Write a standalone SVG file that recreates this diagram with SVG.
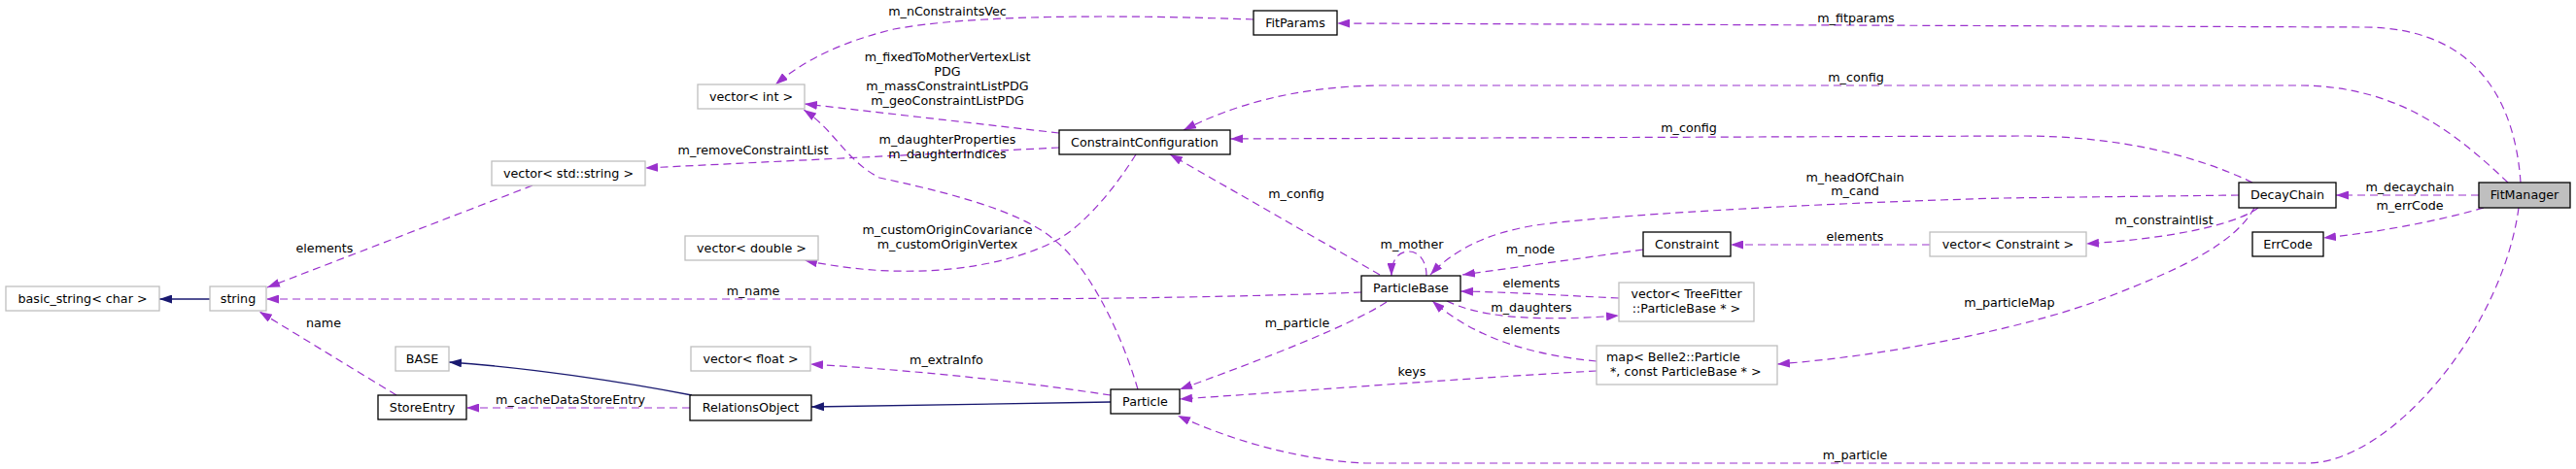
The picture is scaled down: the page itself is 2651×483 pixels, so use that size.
<svg xmlns="http://www.w3.org/2000/svg" width="2651" height="483" viewBox="0 0 2651 483">
<style>
text{font-family:"DejaVu Sans","Liberation Sans",sans-serif;font-size:12.7px;fill:#000;text-anchor:middle}
.n rect{fill:#fff;stroke:#000;stroke-width:1.3}
.g rect{fill:#fff;stroke:#bfbfbf;stroke-width:1.3}
.e{fill:none;stroke:#9a32cd;stroke-width:1.2;stroke-dasharray:8,5;marker-end:url(#ap)}
.i{fill:none;stroke:#191970;stroke-width:1.3;marker-end:url(#an)}
</style>
<defs>
<marker id="ap" viewBox="0 0 13 9" refX="13" refY="4.5" markerWidth="13" markerHeight="9" markerUnits="userSpaceOnUse" orient="auto"><path d="M0,0 L13,4.5 L0,9 Z" fill="#9a32cd"/></marker>
<marker id="an" viewBox="0 0 13 9" refX="13" refY="4.5" markerWidth="13" markerHeight="9" markerUnits="userSpaceOnUse" orient="auto"><path d="M0,0 L13,4.5 L0,9 Z" fill="#191970"/></marker>
</defs>
<rect width="2651" height="483" fill="#fff"/>
<g id="edges">
<g><path class="e" d="M2594,188 C2588,100 2545,28 2432,28 L1376,24"/><text x="1910" y="23">m_fitparams</text></g>
<g><path class="e" d="M2581,188 C2530,140 2470,88 2365,88 L1420,88 C1330,89 1265,110 1218,134"/><text x="1910" y="84">m_config</text></g>
<g><path class="e" d="M2318,188 C2260,160 2180,140 2080,140 L1266,143"/><text x="1738" y="136">m_config</text></g>
<g><path class="e" d="M2304,201 L2060,204 C1850,210 1650,222 1580,232 C1530,240 1495,258 1472,283"/><text x="1909" y="187">m_headOfChain</text><text x="1909" y="201">m_cand</text></g>
<g><path class="e" d="M1468,284 C1468,266 1458,259 1450,259 C1440,259 1432,266 1432,284"/><text x="1453" y="256">m_mother</text></g>
<g><path class="e" d="M1420,283 L1204,159"/><text x="1334" y="204">m_config</text></g>
<g><path class="e" d="M1691,257 L1505,283"/><text x="1575" y="261">m_node</text></g>
<g><path class="e" d="M1986,252 L1781,252"/><text x="1909" y="248">elements</text></g>
<g><path class="e" d="M2324,214 C2300,232 2230,246 2147,251"/><text x="2227" y="231">m_constraintlist</text></g>
<g><path class="e" d="M2320,214 C2300,250 2250,275 2166,307 C2100,333 1960,365 1829,375"/><text x="2068" y="316">m_particleMap</text></g>
<g><path class="e" d="M2551,201 L2404,201"/><text x="2480" y="197">m_decaychain</text></g>
<g><path class="e" d="M2556,214 C2500,230 2440,240 2391,245"/><text x="2480" y="216">m_errCode</text></g>
<g><path class="e" d="M2592,214 C2575,340 2460,477 2374,477 L1405,477 C1340,474 1270,455 1212,428"/><text x="1909" y="473">m_particle</text></g>
<g><path class="e" d="M1427,311 C1390,335 1300,370 1214,401"/><text x="1335" y="337">m_particle</text></g>
<g><path class="e" d="M1643,382 C1500,390 1350,402 1214,411"/><text x="1453" y="387">keys</text></g>
<g><path class="e" d="M1489,310 C1520,325 1570,332 1666,325"/><text x="1576" y="321">m_daughters</text></g>
<g><path class="e" d="M1666,307 C1600,304 1560,301 1503,300"/><text x="1576" y="296">elements</text></g>
<g><path class="e" d="M1643,372 C1580,366 1520,350 1474,310"/><text x="1576" y="344">elements</text></g>
<g><path class="e" d="M1401,301 C1300,305 1150,308 1000,308 L274,308"/><text x="775" y="304">m_name</text></g>
<g><path class="e" d="M1169,159 C1140,205 1110,235 1088,247 C1030,278 930,290 828,268"/><text x="975" y="241">m_customOriginCovariance</text><text x="975" y="256">m_customOriginVertex</text></g>
<g><path class="e" d="M1090,137 L828,107"/><text x="975" y="63">m_fixedToMotherVertexList</text><text x="975" y="78">PDG</text><text x="975" y="93">m_massConstraintListPDG</text><text x="975" y="108">m_geoConstraintListPDG</text></g>
<g><path class="e" d="M1090,152 L664,173"/><text x="775" y="159">m_removeConstraintList</text></g>
<g><path class="e" d="M1290,20 C1150,15 1000,15 920,30 C870,42 830,60 798,87"/><text x="975" y="16">m_nConstraintsVec</text></g>
<g><path class="e" d="M1171,401 C1150,330 1115,270 1086,248 C1050,215 960,195 905,183 C870,165 860,135 827,113"/><text x="975" y="148">m_daughterProperties</text><text x="975" y="163">m_daughterIndices</text></g>
<g><path class="e" d="M1143,407 C1050,393 950,382 834,375"/><text x="974" y="375">m_extraInfo</text></g>
<g><path class="i" d="M1143,414 L835,419"/></g>
<g><path class="i" d="M712,407 C640,393 540,378 462,373"/></g>
<g><path class="e" d="M710,420 L480,420"/><text x="587" y="416">m_cacheDataStoreEntry</text></g>
<g><path class="e" d="M408,407 L267,321"/><text x="333" y="337">name</text></g>
<g><path class="e" d="M548,191 L275,296"/><text x="334" y="260">elements</text></g>
<g><path class="i" d="M216,308 L164,308"/></g>
</g>
<g id="FitManager" class="n"><rect x="2551" y="188" width="94" height="26" style="fill:#bfbfbf"/><text x="2598" y="205">FitManager</text></g>
<g id="DecayChain" class="n"><rect x="2304" y="188" width="100" height="26"/><text x="2354" y="205">DecayChain</text></g>
<g id="ErrCode" class="n"><rect x="2318" y="239" width="73" height="25"/><text x="2354.5" y="256">ErrCode</text></g>
<g id="vectorConstraint" class="g"><rect x="1986" y="239" width="161" height="25"/><text x="2066.5" y="256">vector&lt; Constraint &gt;</text></g>
<g id="Constraint" class="n"><rect x="1691" y="239" width="90" height="25"/><text x="1736" y="256">Constraint</text></g>
<g id="FitParams" class="n"><rect x="1290" y="11" width="86" height="25"/><text x="1333" y="28">FitParams</text></g>
<g id="ConstraintConfiguration" class="n"><rect x="1090" y="134" width="176" height="25"/><text x="1178" y="151">ConstraintConfiguration</text></g>
<g id="vectorInt" class="g"><rect x="718" y="87" width="110" height="25"/><text x="773" y="104">vector&lt; int &gt;</text></g>
<g id="vectorString" class="g"><rect x="506" y="166" width="158" height="25"/><text x="585" y="183">vector&lt; std::string &gt;</text></g>
<g id="vectorDouble" class="g"><rect x="705" y="243" width="137" height="25"/><text x="773.5" y="260">vector&lt; double &gt;</text></g>
<g id="basicString" class="g"><rect x="6" y="295" width="158" height="25"/><text x="85" y="312">basic_string&lt; char &gt;</text></g>
<g id="string" class="g"><rect x="216" y="295" width="58" height="25"/><text x="245" y="312">string</text></g>
<g id="ParticleBase" class="n"><rect x="1401" y="284" width="102" height="26"/><text x="1452" y="301">ParticleBase</text></g>
<g id="vectorTreeFitter" class="g"><rect x="1666" y="291" width="139" height="40"/><text x="1735.5" y="307">vector&lt; TreeFitter</text><text x="1735.5" y="322">::ParticleBase * &gt;</text></g>
<g id="mapParticle" class="g"><rect x="1643" y="356" width="186" height="40"/><text x="1653" y="372" style="text-anchor:start">map&lt; Belle2::Particle</text><text x="1657" y="387" style="text-anchor:start">*, const ParticleBase * &gt;</text></g>
<g id="BASE" class="g"><rect x="407" y="357" width="55" height="25"/><text x="434.5" y="374">BASE</text></g>
<g id="vectorFloat" class="g"><rect x="711" y="357" width="123" height="25"/><text x="772.5" y="374">vector&lt; float &gt;</text></g>
<g id="StoreEntry" class="n"><rect x="389" y="407" width="91" height="25"/><text x="434.5" y="424">StoreEntry</text></g>
<g id="RelationsObject" class="n"><rect x="710" y="407" width="125" height="26"/><text x="772.5" y="424">RelationsObject</text></g>
<g id="Particle" class="n"><rect x="1143" y="401" width="71" height="25"/><text x="1178.5" y="418">Particle</text></g>
</svg>
